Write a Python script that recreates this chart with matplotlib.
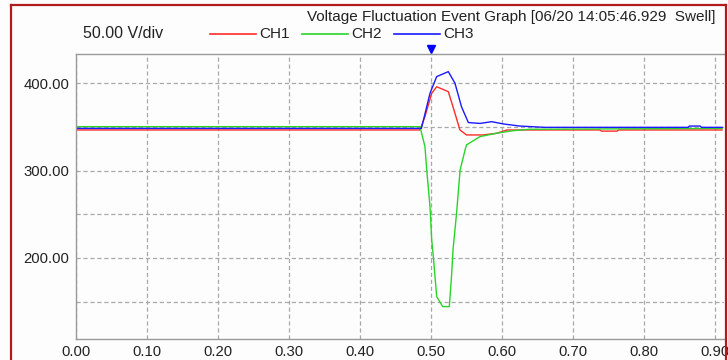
import matplotlib
matplotlib.use("Agg")
import matplotlib.pyplot as plt
from matplotlib.lines import Line2D

# ---- data ----
t_ch1 = [0.00, 0.4845, 0.4915, 0.501, 0.508, 0.5244, 0.531, 0.5408, 0.550, 0.573,
         0.5925, 0.607, 0.738, 0.740, 0.762, 0.764, 0.91]
v_ch1 = [346.5, 346.5, 361.8, 388.5, 396.0, 390.4, 373.0, 346.5, 340.8, 340.8,
         342.7, 346.5, 346.5, 345.2, 345.2, 346.5, 346.5]

t_ch2 = [0.00, 0.4845, 0.4915, 0.494, 0.4986, 0.501, 0.5033, 0.508, 0.5165, 0.5258,
         0.529, 0.531, 0.536, 0.541, 0.548, 0.550, 0.569, 0.5925, 0.616, 0.639, 0.91]
v_ch2 = [350.3, 350.3, 327.4, 300.7, 258.7, 220.6, 201.5, 155.7, 144.2, 144.2,
         180.0, 209.0, 251.0, 300.7, 323.6, 329.4, 338.9, 342.8, 345.7, 347.3, 348.3]

t_ch3 = [0.00, 0.4865, 0.4986, 0.508, 0.5244, 0.5338, 0.543, 0.5526, 0.569, 0.5855,
         0.602, 0.625, 0.66, 0.862, 0.864, 0.879, 0.881, 0.91]
v_ch3 = [348.3, 348.3, 388.5, 407.6, 413.3, 400.0, 373.0, 355.0, 354.0, 356.0,
         353.4, 351.0, 349.5, 349.5, 351.0, 351.0, 349.5, 349.5]

channels = ["CH1", "CH2", "CH3"]
colors = ["#ff2a2a", "#2ad42a", "#1a1aff"]

x_ticks = [0.0, 0.1, 0.2, 0.3, 0.4, 0.5, 0.6, 0.7, 0.8, 0.9]
y_major = [200, 300, 400]
y_minor = [150, 250, 350]
trigger_t = 0.50

title = "Voltage Fluctuation Event Graph [06/20 14:05:46.929  Swell]"
scale_text = "50.00 V/div"

plt.rcParams["font.family"] = ["Liberation Sans", "DejaVu Sans"]
plt.rcParams["lines.scale_dashes"] = False

W, H = 728, 360
fig = plt.figure(figsize=(W / 100, H / 100), dpi=100)
fig.patch.set_facecolor("#fdfdfd")

# axes in pixel terms: left 76, top 54, bottom 338.5, clipped at 724
ax = fig.add_axes([76 / W, 1 - 338.5 / H, (724 - 76) / W, (338.5 - 54) / H])
ax.set_facecolor("#fdfdfd")

grid_kw = dict(color="#a8a8a8", linewidth=0.9, linestyle=(0, (3, 2)))
ax.set_xticks(x_ticks)
ax.set_yticks(y_major)
ax.set_yticks(y_minor, minor=True)
ax.grid(True, which="both", **grid_kw)
ax.set_axisbelow(True)

for t, v, c in zip([t_ch1, t_ch2, t_ch3], [v_ch1, v_ch2, v_ch3], colors):
    ax.plot(t, v, color=c, linewidth=1.0)

ax.set_xlim(0, 0.9127)
ax.set_ylim(107.7, 433.5)
ax.set_xticklabels([f"{x:.2f}" for x in x_ticks])
ax.set_yticklabels([f"{y:.2f}" for y in y_major])
ax.tick_params(axis="both", which="both", length=0, labelsize=10.7, colors="#222222")
ax.tick_params(axis="x", pad=5)
ax.tick_params(axis="y", pad=5)

for side in ["left", "bottom", "top"]:
    ax.spines[side].set_color("#9a9a9a")
    ax.spines[side].set_linewidth(1.0)
ax.spines["right"].set_visible(False)

# trigger marker above the plot
ax.plot([trigger_t], [1.0 + 5 / 284.5], transform=ax.get_xaxis_transform(),
        marker="v", color="#0000ff", markersize=6, clip_on=False)

# header texts
fig.text(307 / W, 1 - 17 / H, title, fontsize=11, color="#222222", va="center", ha="left")
fig.text(83 / W, 1 - 34 / H, scale_text, fontsize=11.5, color="#222222", va="center", ha="left")

# legend built by hand, like the original instrument window
leg_x = [210, 302, 394]
for x0, name, c in zip(leg_x, channels, colors):
    fig.add_artist(Line2D([x0 / W, (x0 + 46) / W], [1 - 34 / H, 1 - 34 / H],
                          color=c, linewidth=1.2, transform=fig.transFigure))
    fig.text((x0 + 49) / W, 1 - 34 / H, name, fontsize=11, color="#222222",
             va="center", ha="left")

# dark red window border
border = "#b01c1c"
fig.add_artist(Line2D([10.5 / W, 10.5 / W], [0, 1 - 5 / H], color=border, linewidth=1.6))
fig.add_artist(Line2D([10.5 / W, 725.5 / W], [1 - 5 / H, 1 - 5 / H], color=border, linewidth=1.6))
fig.add_artist(Line2D([725.5 / W, 725.5 / W], [0, 1 - 5 / H], color=border, linewidth=1.6))

fig.savefig("out.png", dpi=100, facecolor=fig.get_facecolor())
